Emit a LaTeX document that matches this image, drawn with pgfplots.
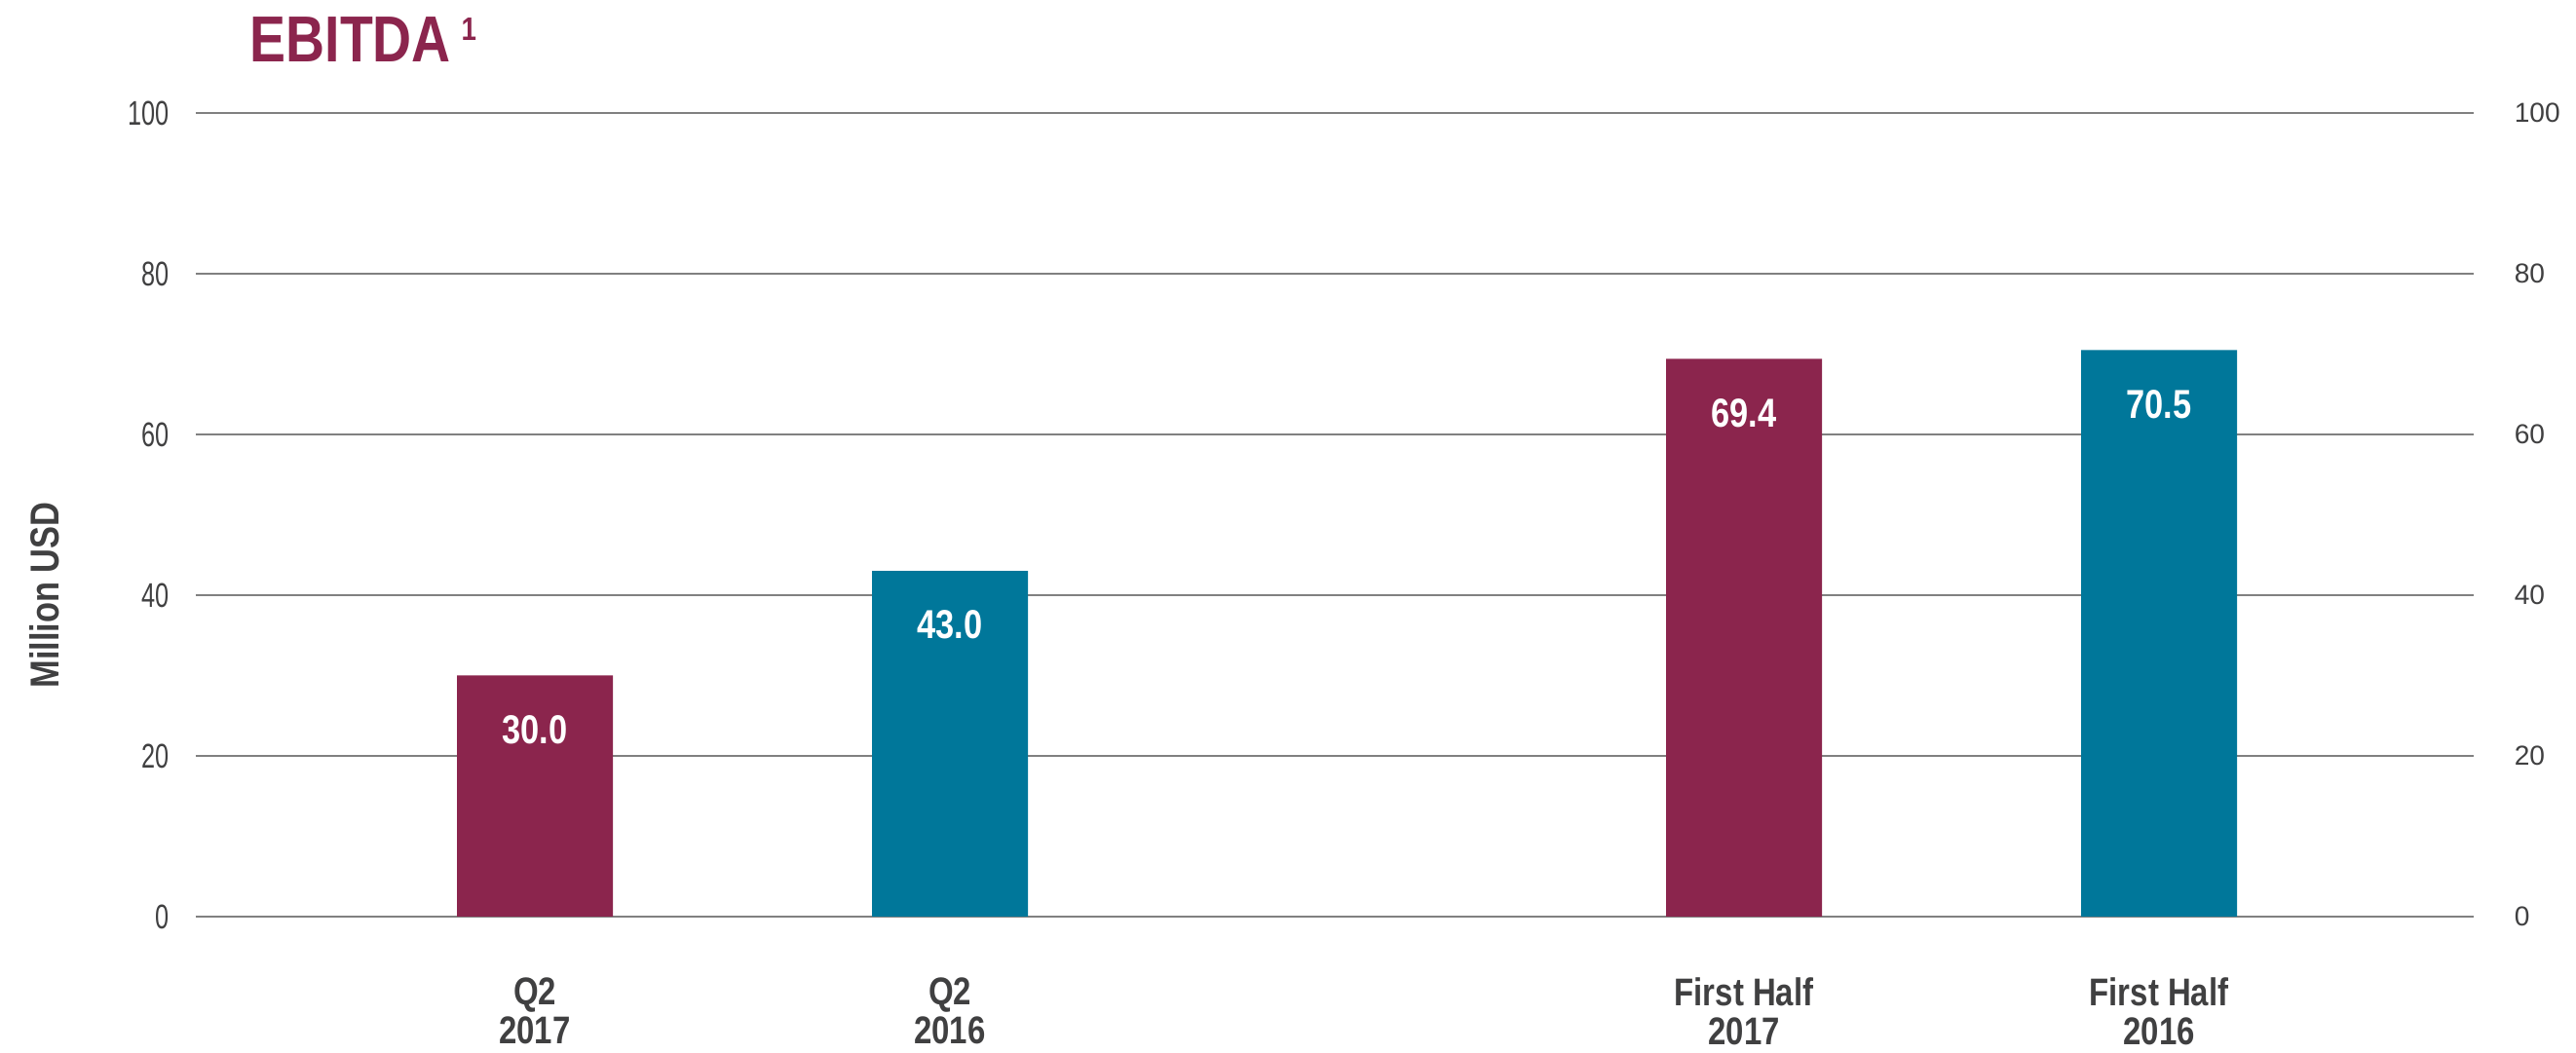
\documentclass[border=0pt]{standalone}
\usepackage{fontspec}
\setmainfont{Liberation Sans}
\newfontfamily\cond[FakeStretch=0.83]{Liberation Sans}
\newfontfamily\narrow[FakeStretch=0.72]{Liberation Sans}
\usepackage{pgfplots}
\pgfplotsset{compat=1.18}
\definecolor{ebmaroon}{HTML}{8B254D}
\definecolor{ebteal}{HTML}{00779A}
\definecolor{txt}{HTML}{404041}
\definecolor{gridgray}{HTML}{808080}

\begin{document}
\begin{tikzpicture}
\path[use as bounding box] (-2.01,-1.40) rectangle (24.43,9.41);
\begin{axis}[
    scale only axis,
    width=23.38cm, height=8.25cm,
    xmin=0, xmax=2338, ymin=0, ymax=100,
    /pgf/number format/assume math mode=true,
    axis line style={draw=none},
    major tick length=0pt,
    ymajorgrids,
    grid style={gridgray, line width=0.6pt},
    ytick={0,20,40,60,80,100},
    yticklabel style={font=\narrow\fontsize{10}{10}\selectfont, text=txt, anchor=east, inner sep=0pt, xshift=-0.27cm},
    xtick={348,774,1589,2015},
    xticklabels={{Q2\\2017},{Q2\\2016},{First Half\\2017},{First Half\\2016}},
    xticklabel style={font=\cond\bfseries\fontsize{11.3}{11.4}\selectfont, text=txt, align=center, anchor=north, inner sep=0pt, yshift=-0.62cm},
    ylabel={Million USD},
    ylabel style={at={(axis description cs:-0.0663,0.4)}, anchor=center, font=\cond\bfseries\fontsize{11.8}{11.8}\selectfont, text=txt},
    nodes near coords={\pgfmathprintnumber[fixed,fixed zerofill,precision=1]{\pgfplotspointmeta}},
    every node near coord/.append style={font=\cond\bfseries\fontsize{11.8}{11.8}\selectfont, text=white, anchor=north, inner sep=0pt, yshift=-0.4cm},
]
\addplot[ybar, bar width=1.6cm, bar shift=0pt, fill=ebmaroon, draw=none] coordinates {(348,30.0) (1589,69.4)};
\addplot[ybar, bar width=1.6cm, bar shift=0pt, fill=ebteal, draw=none] coordinates {(774,43.0) (2015,70.5)};
\end{axis}
\begin{axis}[
    scale only axis,
    width=23.38cm, height=8.25cm,
    xmin=0, xmax=2338, ymin=0, ymax=100,
    /pgf/number format/assume math mode=true,
    axis y line*=right,
    axis x line=none,
    axis line style={draw=none},
    major tick length=0pt,
    xtick=\empty,
    ytick={0,20,40,60,80,100},
    yticklabel style={font=\fontsize{8}{8}\selectfont, text=txt, anchor=west, inner sep=0pt, xshift=0.41cm},
]
\end{axis}
\node[anchor=base west, inner sep=0pt, text=ebmaroon, font=\cond\bfseries\fontsize{19}{19}\selectfont] at (0.55,8.77) {EBITDA\hspace{3pt}{\fontsize{9.5}{9.5}\selectfont\raisebox{6.5pt}{1}}};
\end{tikzpicture}
\end{document}
